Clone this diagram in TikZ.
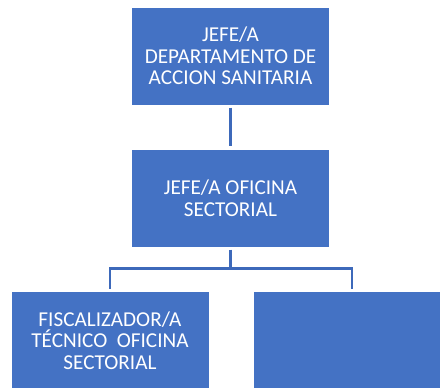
\documentclass[tikz,border=0pt]{standalone}
\usepackage{fontspec}
\setmainfont{Carlito}
\definecolor{BOXcolor}{HTML}{4472C4}
\definecolor{LINKcolor}{HTML}{3D69BA}
\usepackage{tikz}

\begin{document}
\begin{tikzpicture}[x=1pt, y=-1pt]

    \tikzset{%
        unit/.style={%
                fill=BOXcolor, text=white, align=center,
                minimum width=197pt, minimum height=97pt, inner sep=0pt,
                font=\fontsize{21.2pt}{21.7pt}\selectfont
            },
        link/.style={%
                draw=LINKcolor, line width=2.6pt
            }
    }

    \useasboundingbox (0, 0) rectangle (440, 388);
    \clip (0, 0) rectangle (440, 388);

    \node [unit] (jefedep) at (230.5, 56) {JEFE/A\\DEPARTAMENTO DE\\ACCION SANITARIA};
    \node [unit] (jefeofi) at (230.5, 198) {JEFE/A OFICINA\\SECTORIAL};
    \node [unit] (fiscal) at (110, 340.5) {FISCALIZADOR/A\\TÉCNICO~ OFICINA\\SECTORIAL};
    \node [unit] (vacant) at (352, 340.5) {};

    \coordinate (bar) at ([yshift=-22pt]jefeofi.south);

    \draw [link, shorten <=3pt, shorten >=3pt] (jefedep) -- (jefeofi);
    \draw [link, shorten <=3pt] (jefeofi.south) -- (bar);
    \draw [link, shorten >=3pt] (bar) -| (fiscal.north);
    \draw [link, shorten >=3pt] (bar) -| (vacant.north);

\end{tikzpicture}
\end{document}
